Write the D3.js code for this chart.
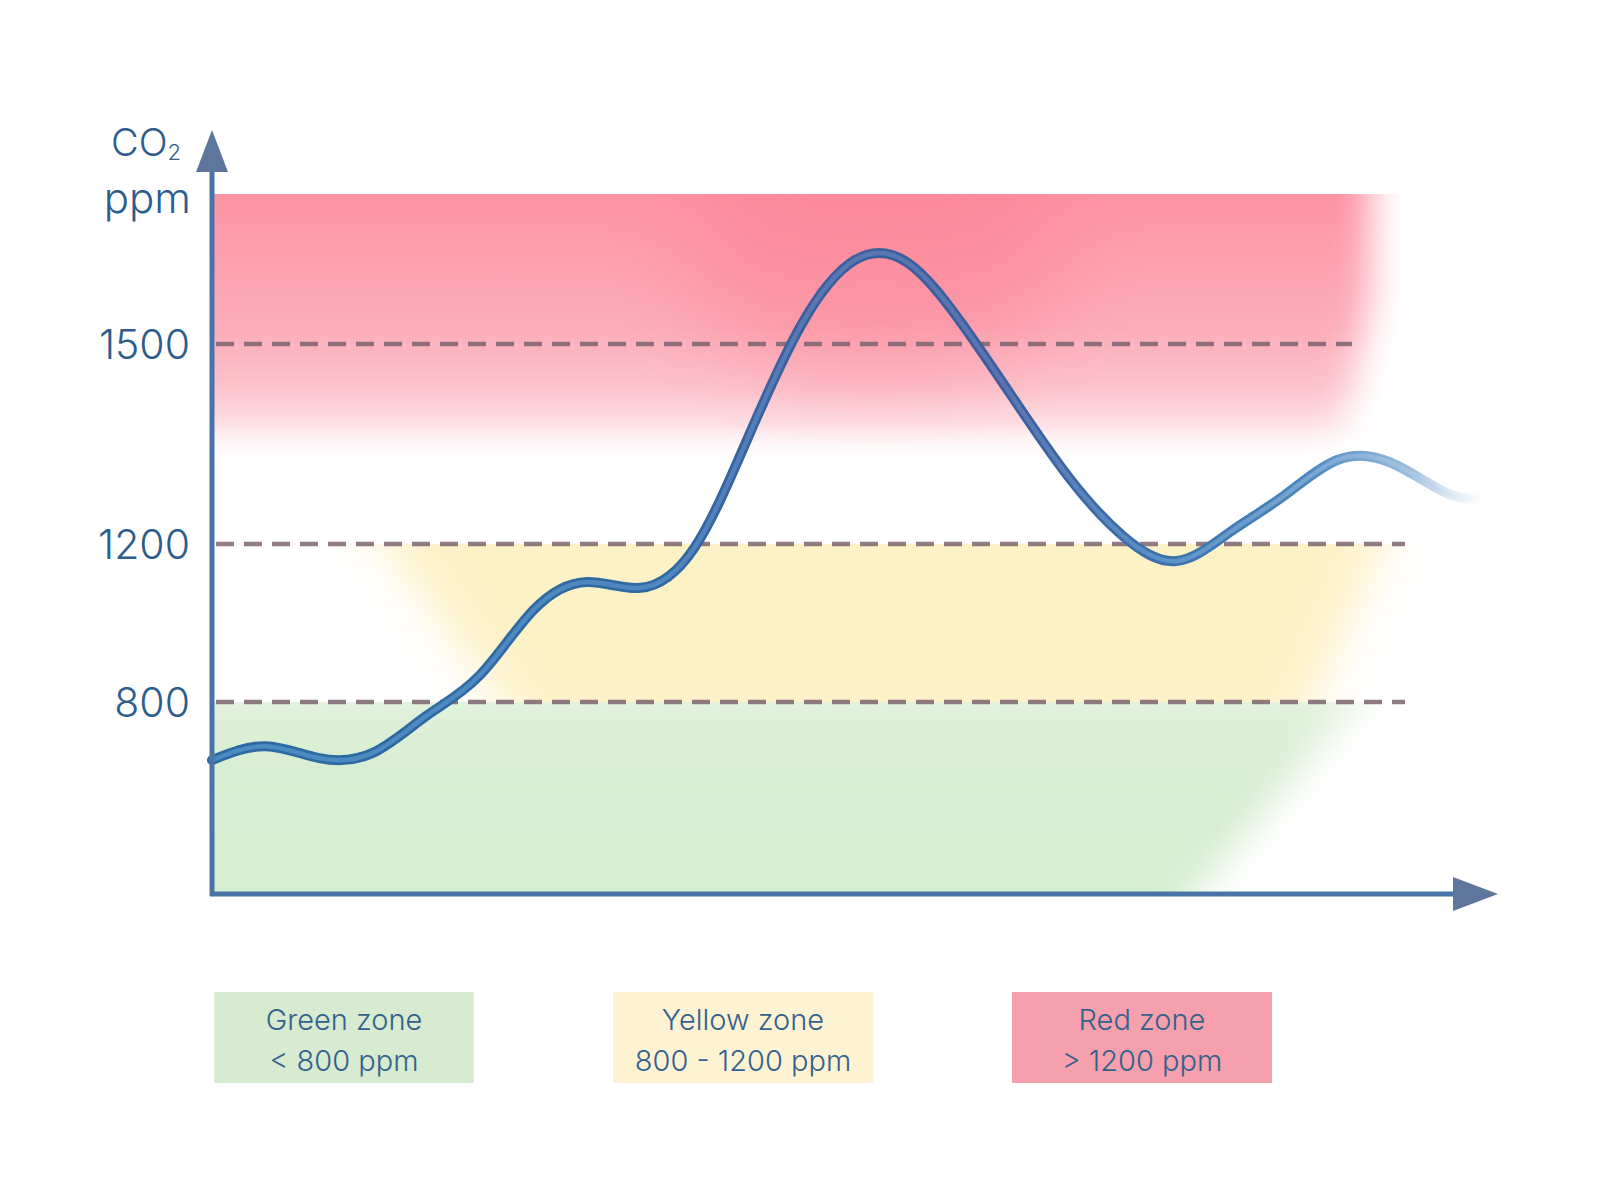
<!DOCTYPE html>
<meta charset="utf-8">
<head>
  <title>CO2 zones</title>
</head>
<style>
  body { margin: 0; background: #fff; font-family: Inter, "Open Sans", sans-serif; }
  .tick text { fill: #2d5d8c; font-size: 41px; font-weight: 300; }
  .grid { stroke: #7d6470; stroke-width: 4.5px; stroke-dasharray: 18 10; opacity: .85; }
  .axis-line { stroke: #4a74a6; stroke-width: 5px; fill: none; }
  .arrow { fill: #5f769c; }
  .legend text { fill: #33618d; font-size: 29px; font-weight: 300; text-anchor: middle; }
</style>
<body>
<svg width="1600" height="1200"></svg>
<script src="https://cdn.jsdelivr.net/npm/d3@7"></script>
<script>
// data, every half hour
var hours = [0, 0.5, 1, 1.5, 2, 2.5, 3, 3.5, 4, 4.5, 5, 5.5, 6, 6.5, 7, 7.5, 8, 8.5,
             9, 9.5, 10, 10.5, 11, 11.5, 11.8];
var co2 = [679, 708, 683, 694, 771, 868, 1033, 1104, 1089, 1190, 1359, 1529, 1626, 1621, 1530, 1413,
           1299, 1212, 1157, 1218, 1272, 1326, 1322, 1278, 1269];
var gridValues = [800, 1200, 1500];
var zoneNames = ["Green zone", "Yellow zone", "Red zone"];
var zoneRanges = ["< 800 ppm", "800 - 1200 ppm", "> 1200 ppm"];
var zoneColors = ["#d6ebcf", "#fdf3d3", "#f5a0ac"];

var svg = d3.select("svg");
var defs = svg.append("defs");

// the picture's y axis is not even, so a piecewise scale
var y = d3.scaleLinear().domain([400, 800, 1200, 1500, 1725]).range([894, 702, 544, 344, 194]);
var x = d3.scaleLinear().domain([0, 12]).range([212, 1498]);

var x0 = x(0), xEnd = x(12);

// blur filters
[["blur18", 18], ["blur25", 25], ["blur45", 45]].forEach(function(b) {
  defs.append("filter").attr("id", b[0]).attr("x", "-30%").attr("y", "-30%")
    .attr("width", "160%").attr("height", "160%")
    .append("feGaussianBlur").attr("stdDeviation", b[1]);
});

function clipBand(id, top, bottom) {
  defs.append("clipPath").attr("id", id).append("rect")
    .attr("x", x0).attr("y", top).attr("width", xEnd - x0).attr("height", bottom - top);
}
clipBand("clipRed", y(1725), y(1200));
clipBand("clipYellow", y(1200), y(800));
clipBand("clipGreen", y(800), y(400));

var line = d3.line().x(function(d, i) { return x(hours[i]); }).y(function(d) { return y(d); });
var poly = d3.line().x(function(d) { return d[0]; }).y(function(d) { return d[1]; });

// red zone
var redGrad = defs.append("linearGradient").attr("id", "redGrad").attr("x1", 0).attr("x2", 0).attr("y1", 0).attr("y2", 1);
redGrad.append("stop").attr("offset", 0).attr("stop-color", "#fd93a3");
redGrad.append("stop").attr("offset", 0.5).attr("stop-color", "#fcadb9");
redGrad.append("stop").attr("offset", 0.72).attr("stop-color", "#fcc3cc");
redGrad.append("stop").attr("offset", 0.86).attr("stop-color", "#fde2e6");
redGrad.append("stop").attr("offset", 1).attr("stop-color", "#ffffff").attr("stop-opacity", 0);

var redMask = defs.append("mask").attr("id", "redMask");
redMask.append("path").attr("fill", "#fff").attr("filter", "url(#blur18)")
  .attr("d", poly([[120, 120], [1370, 120], [1370, 300], [1330, 500], [120, 500]]) + "Z");

var red = svg.append("g").attr("clip-path", "url(#clipRed)");
red.append("g").attr("mask", "url(#redMask)")
  .append("rect").attr("x", x0).attr("y", y(1725)).attr("width", xEnd - x0).attr("height", 270)
  .attr("fill", "url(#redGrad)");
red.append("ellipse").attr("cx", x(6.2)).attr("cy", y(1640)).attr("rx", 190).attr("ry", 120)
  .attr("fill", "#fb7b8f").attr("opacity", 0.45).attr("filter", "url(#blur45)");

// yellow zone
svg.append("g").attr("clip-path", "url(#clipYellow)")
  .append("path").attr("fill", "#fdf1c6").attr("filter", "url(#blur25)")
  .attr("d", poly([[345, 490], [1405, 490], [1295, 740], [530, 740]]) + "Z");

// green zone
var greenGrad = defs.append("linearGradient").attr("id", "greenGrad").attr("x1", 0).attr("x2", 0).attr("y1", 0).attr("y2", 1);
greenGrad.append("stop").attr("offset", 0).attr("stop-color", "#e3f3dd");
greenGrad.append("stop").attr("offset", 0.4).attr("stop-color", "#d7edd1");
greenGrad.append("stop").attr("offset", 1).attr("stop-color", "#d3efcf");
svg.append("g").attr("clip-path", "url(#clipGreen)")
  .append("path").attr("fill", "url(#greenGrad)").attr("filter", "url(#blur18)")
  .attr("d", poly([[150, 680], [1375, 680], [1165, 930], [150, 930]]) + "Z");

// dashed zone lines
svg.selectAll(".grid").data(gridValues).enter().append("line")
  .attr("class", "grid")
  .attr("x1", x0 + 4).attr("x2", function(d) { return d === 1500 ? 1352 : 1405; })
  .attr("y1", function(d) { return y(d); }).attr("y2", function(d) { return y(d); });

// line gradients (fade at the right end)
function strokeGrad(id, stops) {
  var g = defs.append("linearGradient").attr("id", id).attr("gradientUnits", "userSpaceOnUse")
    .attr("x1", x0).attr("x2", 1485).attr("y1", 0).attr("y2", 0);
  stops.forEach(function(s) {
    g.append("stop").attr("offset", s[0]).attr("stop-color", s[1]).attr("stop-opacity", s[2] == null ? 1 : s[2]);
  });
}
strokeGrad("lineOuter", [[0, "#2d6aa1"], [0.35, "#306aa3"], [0.47, "#3c5f9e"], [0.62, "#3e5e9c"],
  [0.74, "#3a70aa"], [0.86, "#4a86bd"], [0.94, "#80a9d2", 0.8], [1, "#d0e0f0", 0]]);
strokeGrad("lineInner", [[0, "#4a8cc2"], [0.35, "#4f87bf"], [0.47, "#5877b3"], [0.62, "#5a74b0"],
  [0.74, "#5890c5"], [0.86, "#78a6d2"], [0.94, "#a9c5e3", 0.8], [1, "#e6eff8", 0]]);

var curve = d3.curveNatural;
svg.append("path").datum(co2).attr("fill", "none").attr("stroke", "url(#lineOuter)")
  .attr("stroke-width", 10).attr("stroke-linecap", "round").attr("d", line.curve(curve));
svg.append("path").datum(co2).attr("fill", "none").attr("stroke", "url(#lineInner)")
  .attr("stroke-width", 4.5).attr("stroke-linecap", "round").attr("d", line.curve(curve));

// axes
svg.append("line").attr("class", "axis-line")
  .attr("x1", x0).attr("x2", x0).attr("y1", y(400) + 2).attr("y2", 168);
svg.append("path").attr("class", "arrow")
  .attr("d", poly([[x0 - 16, 172], [x0, 130], [x0 + 16, 172]]) + "Z");
svg.append("line").attr("class", "axis-line")
  .attr("x1", x0 - 2).attr("x2", 1456).attr("y1", y(400)).attr("y2", y(400));
svg.append("path").attr("class", "arrow")
  .attr("d", poly([[1453, y(400) - 17], [xEnd, y(400)], [1453, y(400) + 17]]) + "Z");

// y tick labels
var yAxis = svg.append("g").attr("transform", "translate(" + x0 + ",0)")
  .call(d3.axisLeft(y).tickValues(gridValues).tickSize(0).tickPadding(22).tickFormat(d3.format("d")));
yAxis.select(".domain").remove();
yAxis.selectAll(".tick text").attr("font-family", "Inter, sans-serif").attr("dy", "0.36em");

// axis title
var title = svg.append("text").attr("fill", "#2d5d8c").attr("font-size", 38).attr("font-weight", 300)
  .attr("text-anchor", "end").attr("x", 181).attr("y", 156);
title.append("tspan").text("CO");
title.append("tspan").attr("font-size", 22).attr("dy", 4).text("2");
svg.append("text").attr("fill", "#2d5d8c").attr("font-size", 42).attr("font-weight", 300)
  .attr("text-anchor", "end").attr("x", 191).attr("y", 213).text("ppm");

// legend
var lx = d3.scaleBand().domain(zoneNames).range([214, 1272]).paddingInner(0.3484);
var legend = svg.append("g").attr("class", "legend").selectAll("g").data(zoneNames).enter().append("g")
  .attr("transform", function(d) { return "translate(" + lx(d) + ",992)"; });
legend.append("rect").attr("width", lx.bandwidth()).attr("height", 91)
  .attr("fill", function(d, i) { return zoneColors[i]; });
legend.append("text").attr("x", lx.bandwidth() / 2).attr("y", 38).text(function(d) { return d; });
legend.append("text").attr("x", lx.bandwidth() / 2).attr("y", 79).text(function(d, i) { return zoneRanges[i]; });
</script>
</body>
</html>
